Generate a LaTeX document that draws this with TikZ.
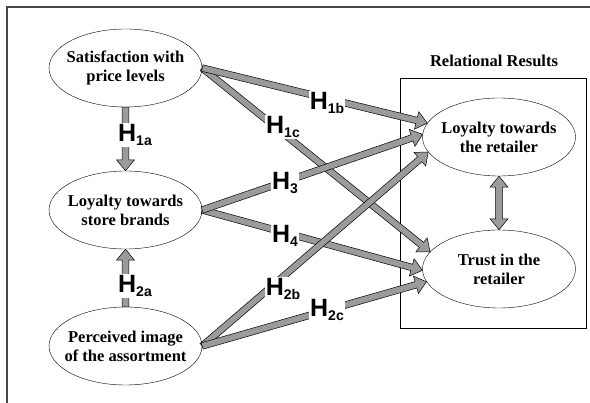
\documentclass[tikz,border=0pt]{standalone}
\usepackage{fontspec}
\setmainfont{Liberation Serif}
\newfontfamily\labfont{Liberation Sans}
\usetikzlibrary{calc,shapes.geometric}
\definecolor{arrgray}{RGB}{155,155,155}
\definecolor{framegray}{RGB}{70,70,70}
\newcommand\sw{3.3pt}
\newcommand\hw{9pt}
\newcommand\hl{11pt}
\newcommand\barr[2]{%
  \path (#1) coordinate (bA) (#2) coordinate (bB);
  \path ($(bB)!\hl!(bA)$) coordinate (bC);
  \filldraw[blockarrow] ($(bA)!\sw!90:(bB)$) -- ($(bC)!\sw!90:(bB)$) -- ($(bC)!\hw!90:(bB)$) -- (bB)
    -- ($(bC)!\hw!-90:(bB)$) -- ($(bC)!\sw!-90:(bB)$) -- ($(bA)!\sw!-90:(bB)$) -- cycle;}
\newcommand\dbarr[2]{%
  \path (#1) coordinate (bA) (#2) coordinate (bB);
  \path ($(bB)!\hl!(bA)$) coordinate (bC) ($(bA)!\hl!(bB)$) coordinate (bD);
  \filldraw[blockarrow] (bA) -- ($(bD)!\hw!90:(bB)$) -- ($(bD)!\sw!90:(bB)$) -- ($(bC)!\sw!90:(bB)$)
    -- ($(bC)!\hw!90:(bB)$) -- (bB) -- ($(bC)!\hw!-90:(bB)$) -- ($(bC)!\sw!-90:(bB)$)
    -- ($(bD)!\sw!-90:(bB)$) -- ($(bD)!\hw!-90:(bB)$) -- cycle;}
\newcommand\hyp[1]{H\raisebox{-4.5pt}{\fontsize{14}{14}\selectfont #1}}
\tikzset{
  construct/.style={draw, ellipse, minimum width=153pt, minimum height=78pt, inner sep=0pt,
    label={[ctext]center:#1}},
  ctext/.style={align=center, inner sep=0pt, font=\fontsize{16.5}{19}\selectfont\bfseries},
  blockarrow/.style={fill=arrgray, draw=black, line width=0.5pt, line join=miter},
  hlabel/.style={fill=white, inner sep=1pt, font=\labfont\bfseries\fontsize{25}{25}\selectfont},
}
\begin{document}
\begin{tikzpicture}[x=1pt,y=-1pt]
\useasboundingbox (0,0) rectangle (590,403);
\draw[framegray, line width=1.5pt] (7,403) -- (7,7) -- (590,7);
\node[font=\fontsize{16.5}{18}\selectfont\bfseries] (rrt) at (494,61) {Relational Results};
\draw[line width=0.8pt] (400,78) rectangle (586,328);
\node[construct={Satisfaction with\\price levels}] (sat) at (125.5,68) {};
\node[construct={Loyalty towards\\store brands}] (sb) at (125.5,210) {};
\node[construct={Perceived image\\of the assortment}] (pi) at (125.5,346) {};
\node[construct={Loyalty towards\\the retailer}] (lr) at (499,137) {};
\node[construct={Trust in the\\retailer}] (tr) at (499,269) {};
\barr{sat.south}{sb.north}
\barr{pi.north}{sb.south}
\barr{sat.east}{tr.166}
\barr{sat.east}{lr.169}
\barr{sb.east}{tr.181}
\barr{sb.east}{lr.178}
\barr{pi.east}{lr.192}
\barr{pi.east}{tr.190}
\dbarr{lr.south}{tr.north}
\node[hlabel] (h1a) at (135,135) {\hyp{1a}};
\node[hlabel] (h2a) at (135,286) {\hyp{2a}};
\node[hlabel] (h1b) at (327,103) {\hyp{1b}};
\node[hlabel] (h1c) at (283,127) {\hyp{1c}};
\node[hlabel] (h3) at (285,183) {\hyp{3}};
\node[hlabel] (h4) at (285,236) {\hyp{4}};
\node[hlabel] (h2b) at (283,289) {\hyp{2b}};
\node[hlabel] (h2c) at (327,310) {\hyp{2c}};
\end{tikzpicture}
\end{document}
